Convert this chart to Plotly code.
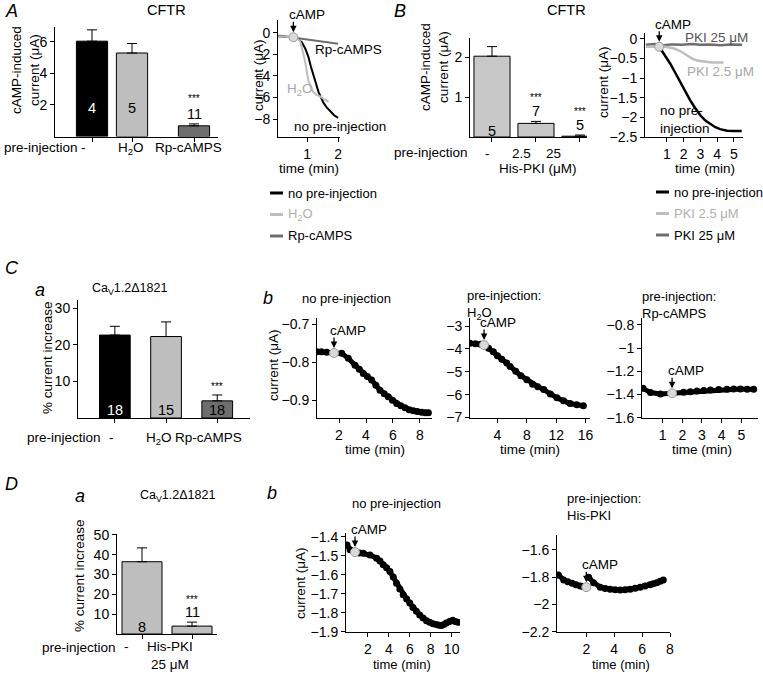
import plotly.graph_objects as go

W, H = 763, 673
FONT = "Liberation Sans, Arial, Helvetica, sans-serif"
LGRAY = "#bebebe"
MGRAY = "#c8c8c8"
DGRAY = "#6e6e6e"
MARK = "#d9d9d9"

# ---------------- data ----------------
# A: CFTR, cAMP-induced current (uA)
a_groups = ["-", "H<sub>2</sub>O", "Rp-cAMPS"]
a_mean = [6.05, 5.3, 0.68]
a_err = [0.72, 0.6, 0.12]
a_n = ["4", "5", "11"]
a_sig = ["", "", "***"]

# A: example recordings (time min, current uA)
a_none_t = [0.07, 0.3, 0.56, 0.7, 0.83, 0.95, 1.04, 1.12, 1.2, 1.28, 1.37, 1.45, 1.53, 1.64, 1.74, 1.87, 2.0]
a_none_v = [-0.3, -0.35, -0.4, -0.55, -0.85, -1.5, -2.2, -3.1, -3.9, -4.7, -5.5, -6.0, -6.5, -6.95, -7.3, -7.65, -7.9]
a_h2o_t = [0.07, 0.3, 0.56, 0.7, 0.78, 0.86, 0.94, 1.04, 1.12, 1.2, 1.3, 1.42, 1.55, 1.69]
a_h2o_v = [-0.3, -0.35, -0.4, -0.55, -0.8, -1.7, -2.7, -4.4, -5.0, -5.5, -5.75, -5.9, -6.15, -6.4]
a_rp_t = [0.07, 0.56, 1.0, 1.5, 2.0]
a_rp_v = [-0.23, -0.42, -0.6, -0.8, -1.0]
a_camp = (0.56, -0.4)
a_legend = ["no pre-injection", "H<sub>2</sub>O", "Rp-cAMPS"]

# B: CFTR, His-PKI
b_groups = ["-", "2.5", "25"]
b_mean = [2.02, 0.34, 0.02]
b_err = [0.24, 0.05, 0.03]
b_n = ["5", "7", "5"]
b_sig = ["", "***", "***"]

b_none_t = [0.55, 0.66, 0.9, 1.19, 1.49, 1.79, 2.09, 2.39, 2.69, 2.99, 3.3, 3.58, 3.9, 4.18, 4.6, 4.98, 5.47]
b_none_v = [-0.2, -0.27, -0.43, -0.62, -0.85, -1.09, -1.33, -1.56, -1.76, -1.94, -2.08, -2.17, -2.25, -2.3, -2.34, -2.35, -2.35]
b_pki25_t = [-0.25, 0.3, 0.8, 1.3, 1.9, 2.5, 3.0, 3.6, 4.2, 4.8, 5.5]
b_pki25_v = [-0.15, -0.13, -0.16, -0.14, -0.15, -0.13, -0.15, -0.14, -0.16, -0.14, -0.15]
b_pki2_t = [-0.25, 0.4, 0.9, 1.39, 1.7, 1.99, 2.3, 2.59, 2.9, 3.18, 3.7, 4.38]
b_pki2_v = [-0.2, -0.2, -0.2, -0.24, -0.29, -0.36, -0.44, -0.52, -0.56, -0.58, -0.6, -0.6]
b_camp = (0.55, -0.2)
b_legend = ["no pre-injection", "PKI 2.5 \u03bcM", "PKI 25 \u03bcM"]

# C a: CaV1.2d1821, % current increase
c_groups = ["-", "H<sub>2</sub>O", "Rp-cAMPS"]
c_mean = [22.7, 22.3, 4.7]
c_err = [2.4, 4.0, 1.6]
c_n = ["18", "15", "18"]
c_sig = ["", "", "***"]

# C b: recordings
c1_t = [0.35, 0.7, 1.09, 1.63, 2.2, 2.69, 3.19, 3.5, 3.8, 4.1, 4.42, 4.73, 5.04, 5.35, 5.65, 5.96, 6.27, 6.58, 6.89, 7.2, 7.5, 7.8, 8.12, 8.4, 8.62]
c1_v = [-0.773, -0.773, -0.774, -0.776, -0.777, -0.79, -0.808, -0.819, -0.83, -0.838, -0.847, -0.861, -0.874, -0.883, -0.891, -0.9, -0.909, -0.915, -0.92, -0.925, -0.928, -0.93, -0.932, -0.933, -0.933]
c1_camp = (1.63, -0.776)
c2_t = [0.27, 1.0, 1.7, 2.18, 2.8, 3.45, 4.0, 4.6, 5.28, 5.73, 6.5, 7.2, 8.0, 8.8, 9.5, 10.3, 11.2, 12.1, 13.0, 13.9, 14.8, 15.7]
c2_v = [-3.75, -3.77, -3.8, -3.83, -3.97, -4.12, -4.3, -4.45, -4.62, -4.77, -4.98, -5.17, -5.35, -5.55, -5.65, -5.78, -5.97, -6.14, -6.27, -6.39, -6.44, -6.48]
c2_camp = (2.18, -3.83)
c3_t = [0.0, 0.38, 0.89, 1.48, 2.07, 2.41, 2.75, 3.09, 3.43, 3.85, 4.27, 4.61, 4.95, 5.3, 5.63]
c3_v = [-1.346, -1.383, -1.395, -1.389, -1.38, -1.375, -1.369, -1.364, -1.36, -1.357, -1.355, -1.353, -1.352, -1.354, -1.355]
c3_camp = (1.48, -1.389)

# D a: His-PKI 25 uM
d_groups = ["-", "His-PKI<br>25 \u03bcM"]
d_mean = [36.5, 4.0]
d_err = [7.0, 2.0]
d_n = ["8", "11"]
d_sig = ["", "***"]

d1_t = [0.0, 0.29, 0.76, 1.2, 1.56, 2.19, 2.83, 3.15, 3.46, 3.78, 4.1, 4.42, 4.73, 5.05, 5.37, 5.7, 6.0, 6.3, 6.63, 6.95, 7.27, 7.6, 7.9, 8.22, 8.54, 8.8, 9.02, 9.25, 9.49, 9.8, 10.1, 10.35, 10.6]
d1_v = [-1.442, -1.468, -1.48, -1.484, -1.486, -1.495, -1.512, -1.527, -1.547, -1.563, -1.583, -1.612, -1.644, -1.675, -1.705, -1.728, -1.749, -1.772, -1.793, -1.812, -1.828, -1.842, -1.851, -1.858, -1.863, -1.866, -1.868, -1.862, -1.854, -1.846, -1.84, -1.847, -1.851]
d1_camp = (0.76, -1.48)
d2_t = [0.0, 0.38, 0.68, 0.98, 1.27, 1.57, 1.8, None, 2.17, 2.52, 3.0, 3.35, 3.71, 4.07, 4.43, 4.78, 5.14, 5.5, 5.86, 6.2, 6.57, 6.8, 7.05, 7.3, 7.52]
d2_v = [-1.783, -1.82, -1.833, -1.844, -1.855, -1.864, -1.87, None, -1.8, -1.84, -1.873, -1.882, -1.888, -1.891, -1.893, -1.891, -1.888, -1.881, -1.873, -1.865, -1.856, -1.848, -1.84, -1.83, -1.82]
d2_camp = (2.0, -1.873)

# ---------------- figure ----------------
fig = go.Figure()
ann = []
shapes = []
axes = {}


def panel(i, xpx, ypx, xr, yr, xt, yt, xlab=True):
    s = "" if i == 1 else str(i)
    base = dict(showline=True, linecolor="black", linewidth=1, ticks="outside", ticklen=4,
                tickwidth=1, tickcolor="black", showgrid=False, zeroline=False, fixedrange=True,
                tickfont=dict(family=FONT, size=14, color="black"))
    axes["xaxis" + s] = dict(base, domain=[xpx[0] / W, xpx[1] / W], range=xr, anchor="y" + s,
                             tickvals=xt, showticklabels=xlab)
    axes["yaxis" + s] = dict(base, domain=[1 - ypx[1] / H, 1 - ypx[0] / H], range=yr, anchor="x" + s,
                             tickvals=yt)
    return "x" + s, "y" + s


def txt(x, y, text, size=13.5, color="black", xa="center", ya="middle", angle=0, xref="paper", yref="paper",
        xshift=0, yshift=0, align="center"):
    if xref == "paper":
        x = x / W
    if yref == "paper":
        y = 1 - y / H
    ann.append(dict(x=x, y=y, xref=xref, yref=yref, text=text, showarrow=False, xanchor=xa, yanchor=ya,
                    textangle=angle, xshift=xshift, yshift=yshift, align=align,
                    font=dict(family=FONT, size=size, color=color)))


def bars(xa, ya, slots, mean, err, colors, n, ncolors, ninside, sig, wid, nshift, sigshift, labels, lab_x, lab_y):
    fig.add_trace(go.Bar(x=slots, y=mean, width=wid, xaxis=xa, yaxis=ya, showlegend=False,
                         marker=dict(color=colors, line=dict(color="black", width=1)),
                         error_y=dict(type="data", array=err, arrayminus=[0] * len(err), symmetric=False,
                                      color="black", thickness=1, width=5)))
    for k in range(len(mean)):
        top = mean[k] + err[k]
        if ninside[k]:
            txt(slots[k], 0, n[k], size=14.5, color=ncolors[k], xref=xa, yref=ya, yshift=nshift)
            if sig[k]:
                txt(slots[k], top, sig[k], size=10, xref=xa, yref=ya, ya="bottom", yshift=sigshift)
        else:
            txt(slots[k], top, n[k], size=14.5, color=ncolors[k], xref=xa, yref=ya, ya="bottom", yshift=0)
            txt(slots[k], top, sig[k], size=10, xref=xa, yref=ya, ya="bottom", yshift=sigshift)
    for lx, lt in zip(lab_x, labels):
        txt(lx, lab_y, lt, xref=xa, yref="paper", ya="top")


def camp(xa, ya, pt):
    ann.append(dict(x=pt[0], y=pt[1], xref=xa, yref=ya, text="", showarrow=True, arrowhead=2,
                    arrowsize=1, arrowwidth=1.3, arrowcolor="black", ax=0, ay=-17, standoff=5))
    txt(pt[0], pt[1], "cAMP", xref=xa, yref=ya, xa="left", ya="bottom", xshift=-6, yshift=13)


def dots(xa, ya, t, v, pt):
    fig.add_trace(go.Scatter(x=t, y=v, xaxis=xa, yaxis=ya, mode="lines+markers", showlegend=False,
                             line=dict(color="black", width=5), marker=dict(color="black", size=7),
                             connectgaps=False))
    fig.add_trace(go.Scatter(x=[pt[0]], y=[pt[1]], xaxis=xa, yaxis=ya, mode="markers", showlegend=False,
                             marker=dict(color=MARK, size=9, line=dict(color="#9a9a9a", width=1))))
    camp(xa, ya, pt)


def key(x_px, y_px, names, colors, tcolors, step=21.5):
    for k, (nm, c, tc) in enumerate(zip(names, colors, tcolors)):
        yy = 1 - (y_px + step * k) / H
        shapes.append(dict(type="line", xref="paper", yref="paper", x0=x_px / W, x1=(x_px + 13) / W,
                           y0=yy, y1=yy, line=dict(color=c, width=3)))
        txt(x_px + 16, y_px + step * k, nm, size=13, color=tc, xa="left")


# ---- A bar ----
xa, ya = panel(1, (55, 218), (27, 136.5), [-0.925, 3.15], [0, 6.95], [0, 1, 2.55], [2, 4, 6], xlab=False)
bars(xa, ya, [0, 1, 2.55], a_mean, a_err, ["black", LGRAY, DGRAY], a_n, ["white", "black", "black"],
     [True, True, False], a_sig, 0.78, 28, 18, a_groups, [-0.22, 0.98, 2.4], 138)
txt(2, 147, "pre-injection", xa="left")
txt(26, 70, "cAMP-induced<br>current (\u03bcA)", angle=-90)

# ---- A traces ----
xa, ya = panel(2, (278, 340), (20, 137), [0.065, 2.06], [-9.67, 1.2], [1, 2], [0, -2, -4, -6, -8])
fig.add_trace(go.Scatter(x=a_rp_t, y=a_rp_v, xaxis=xa, yaxis=ya, mode="lines", showlegend=False,
                         line=dict(color=DGRAY, width=2)))
fig.add_trace(go.Scatter(x=a_none_t, y=a_none_v, xaxis=xa, yaxis=ya, mode="lines", showlegend=False,
                         line=dict(color="black", width=2)))
fig.add_trace(go.Scatter(x=a_h2o_t, y=a_h2o_v, xaxis=xa, yaxis=ya, mode="lines", showlegend=False,
                         line=dict(color=LGRAY, width=2)))
fig.add_trace(go.Scatter(x=[a_camp[0]], y=[a_camp[1]], xaxis=xa, yaxis=ya, mode="markers", showlegend=False,
                         marker=dict(color=MARK, size=9, line=dict(color="#9a9a9a", width=1))))
camp(xa, ya, a_camp)
txt(1.2, -1.58, "Rp-cAMPS", xref=xa, yref=ya, xa="left")
txt(0.29, -5.3, "H<sub>2</sub>O", color="#a8a8a8", xref=xa, yref=ya, xa="left")
txt(0.5, -8.7, "no pre-injection", xref=xa, yref=ya, xa="left")
txt(258, 75, "current (\u03bcA)", angle=-90)
txt(309, 168, "time (min)")
key(270, 193, a_legend, ["black", LGRAY, DGRAY], ["black", "#b0b0b0", "black"])

# ---- B bar ----
xa, ya = panel(3, (470, 587), (38, 137), [-0.5, 2.16], [0, 2.475], [0, 1, 2], [1, 2], xlab=False)
bars(xa, ya, [0, 1, 2], b_mean, b_err, [MGRAY] * 3, b_n, ["black"] * 3,
     [True, False, False], b_sig, 0.82, 6, 16, b_groups, [-0.11, 0.68, 1.39], 144)
txt(392, 153, "pre-injection", xa="left")
txt(1.05, 168, "His-PKI (\u03bcM)", xref=xa)
txt(435, 67, "cAMP-induced<br>current (\u03bcA)", angle=-90)

# ---- B traces ----
xa, ya = panel(4, (645, 743), (33, 137), [-0.3, 5.55], [-2.5, 0.15], [1, 2, 3, 4, 5],
               [0, -0.5, -1, -1.5, -2, -2.5])
fig.add_trace(go.Scatter(x=b_pki25_t, y=b_pki25_v, xaxis=xa, yaxis=ya, mode="lines", showlegend=False,
                         line=dict(color=DGRAY, width=2.5)))
fig.add_trace(go.Scatter(x=b_pki2_t, y=b_pki2_v, xaxis=xa, yaxis=ya, mode="lines", showlegend=False,
                         line=dict(color=LGRAY, width=2.5)))
fig.add_trace(go.Scatter(x=b_none_t, y=b_none_v, xaxis=xa, yaxis=ya, mode="lines", showlegend=False,
                         line=dict(color="black", width=2.5)))
fig.add_trace(go.Scatter(x=[b_camp[0]], y=[b_camp[1]], xaxis=xa, yaxis=ya, mode="markers", showlegend=False,
                         marker=dict(color=MARK, size=9, line=dict(color="#9a9a9a", width=1))))
camp(xa, ya, b_camp)
txt(1.97, 0.03, "PKI 25 \u03bcM", color="#555555", xref=xa, yref=ya, xa="left")
txt(2.1, -0.83, "PKI 2.5 \u03bcM", color="#a8a8a8", xref=xa, yref=ya, xa="left")
txt(0.48, -2.05, "no pre-<br>injection", xref=xa, yref=ya, xa="left", align="left")
txt(603, 82, "current (\u03bcA)", angle=-90)
txt(705, 168, "time (min)")
key(656, 192, b_legend, ["black", LGRAY, DGRAY], ["black", "#b0b0b0", "black"])

# ---- C a ----
xa, ya = panel(5, (78, 250), (300, 418), [-0.72, 2.64], [0, 32.3], [0, 1, 2], [10, 20, 30], xlab=False)
bars(xa, ya, [0, 1, 2], c_mean, c_err, ["black", LGRAY, DGRAY], c_n, ["white", "black", "black"],
     [True, True, True], c_sig, 0.6, 8, 1, c_groups, [-0.06, 0.86, 1.82], 428)
txt(25, 437, "pre-injection", xa="left")
txt(47, 358, "% current increase", angle=-90)

# ---- C b ----
xa, ya = panel(6, (317, 432), (318, 418), [0.37, 8.89], [-0.947, -0.684], [2, 4, 6, 8], [-0.9, -0.8, -0.7])
dots(xa, ya, c1_t, c1_v, c1_camp)
txt(273, 365, "current (\u03bcA)", angle=-90)
txt(375, 449, "time (min)")
xa, ya = panel(7, (470, 590), (318, 418), [0.27, 16.6], [-7.02, -2.65], [4, 8, 12, 16], [-3, -4, -5, -6, -7])
dots(xa, ya, c2_t, c2_v, c2_camp)
txt(530, 449, "time (min)")
xa, ya = panel(8, (642, 758), (318, 418), [-0.05, 5.85], [-1.602, -0.74], [1, 2, 3, 4, 5],
               [-0.8, -1, -1.2, -1.4, -1.6])
dots(xa, ya, c3_t, c3_v, c3_camp)
txt(702, 449, "time (min)")

# ---- D a ----
xa, ya = panel(9, (117, 217), (534, 634), [-0.5, 1.5], [0, 50.5], [0, 1], [10, 20, 30, 40, 50], xlab=False)
bars(xa, ya, [0, 1], d_mean, d_err, [LGRAY] * 2, d_n, ["black"] * 2,
     [True, False], d_sig, 0.8, 7, 15, d_groups, [-0.3, 0.56], 637)
txt(40, 647, "pre-injection", xa="left")
txt(79, 576, "% current increase", angle=-90)

# ---- D b ----
xa, ya = panel(10, (346, 460), (533, 632), [-0.1, 10.8], [-1.902, -1.379], [2, 4, 6, 8, 10],
               [-1.4, -1.5, -1.6, -1.7, -1.8, -1.9])
dots(xa, ya, d1_t, d1_v, d1_camp)
txt(300, 583, "current (\u03bcA)", angle=-90)
txt(402, 664, "time (min)", size=13)
xa, ya = panel(11, (557, 670), (535, 632), [-0.1, 8.0], [-2.202, -1.49], [2, 4, 6, 8], [-1.6, -1.8, -2, -2.2])
dots(xa, ya, d2_t, d2_v, d2_camp)
txt(621, 664, "time (min)", size=13)

# ---- headings ----
txt(3, 11, "<i>A</i>", size=18, xa="left")
txt(392, 11, "<i>B</i>", size=18, xa="left")
txt(3, 268, "<i>C</i>", size=18, xa="left")
txt(3, 484, "<i>D</i>", size=18, xa="left")
txt(166, 10, "CFTR", size=14.5)
txt(566, 10, "CFTR", size=14.5)
txt(40, 290, "<i>a</i>", size=18)
txt(90, 289, "Ca<sub>V</sub>1.2\u03941821", size=12.5, xa="left")
txt(268, 298, "<i>b</i>", size=18)
txt(300, 298, "no pre-injection", size=13, xa="left")
txt(465, 305, "pre-injection:<br>H<sub>2</sub>O", size=13, xa="left", align="left")
txt(640, 305, "pre-injection:<br>Rp-cAMPS", size=13, xa="left", align="left")
txt(80, 496, "<i>a</i>", size=18)
txt(138, 496, "Ca<sub>V</sub>1.2\u03941821", size=12.5, xa="left")
txt(272, 493, "<i>b</i>", size=18)
txt(350, 503, "no pre-injection", size=13, xa="left")
txt(565, 507, "pre-injection:<br>His-PKI", size=13, xa="left", align="left")

fig.update_layout(
    width=W, height=H, margin=dict(l=0, r=0, t=0, b=0, autoexpand=False),
    paper_bgcolor="white", plot_bgcolor="white",
    font=dict(family=FONT, size=13.5, color="black"),
    annotations=ann, shapes=shapes, showlegend=False,
    **axes,
)

fig.write_html("out.html", config={"displayModeBar": False, "staticPlot": True},
               post_script="document.body.style.margin='0';document.body.style.overflow='hidden';")
